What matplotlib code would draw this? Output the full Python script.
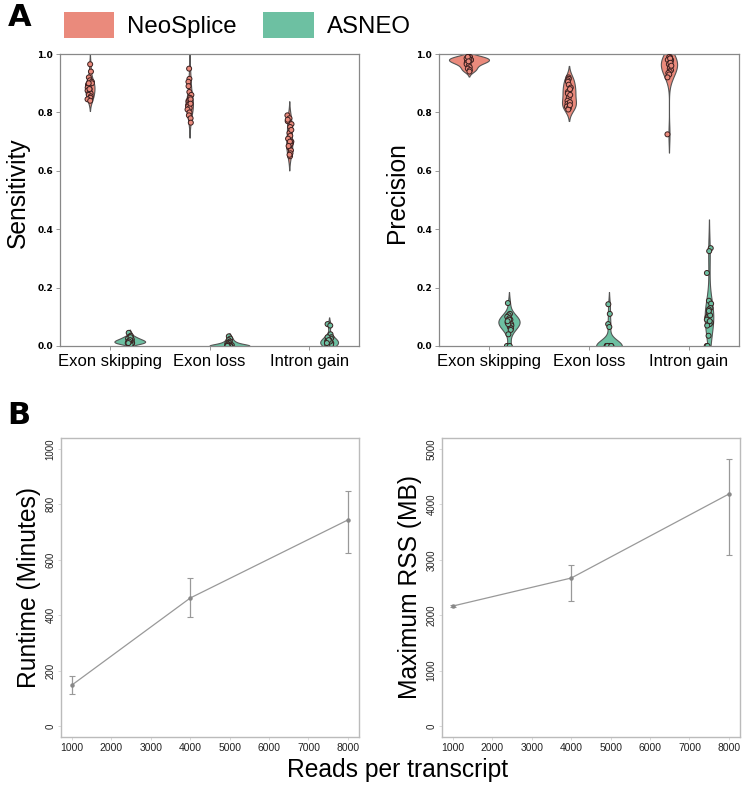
import matplotlib
matplotlib.use("Agg")
import matplotlib.pyplot as plt
import matplotlib.patches as mpatches
import numpy as np
import pandas as pd
import seaborn as sns

plt.rcParams['font.family'] = ['Liberation Sans', 'DejaVu Sans']

# ---------------- data ----------------
categories = ["Exon skipping", "Exon loss", "Intron gain"]
tools = ["NeoSplice", "ASNEO"]
colors = {"NeoSplice": "#EA8A7C", "ASNEO": "#6DC0A2"}

sens_neo_skip = [0.965, 0.94, 0.92, 0.91, 0.905, 0.90, 0.895, 0.89, 0.885, 0.88,
                 0.875, 0.87, 0.865, 0.86, 0.855, 0.85, 0.845, 0.84, 0.90, 0.88]
sens_neo_loss = [0.95, 0.915, 0.905, 0.89, 0.87, 0.86, 0.85, 0.84, 0.835, 0.83,
                 0.825, 0.82, 0.815, 0.81, 0.80, 0.79, 0.78, 0.765, 0.845, 0.83]
sens_neo_gain = [0.79, 0.78, 0.77, 0.76, 0.75, 0.73, 0.72, 0.71, 0.70, 0.695,
                 0.69, 0.68, 0.67, 0.66, 0.65, 0.74, 0.70, 0.685, 0.655, 0.775]
sens_asn_skip = [0.045, 0.035, 0.03, 0.025, 0.02, 0.02, 0.015, 0.015, 0.01, 0.01,
                 0.01, 0.005, 0.02, 0.025, 0.015, 0.01, 0.03, 0.02, 0.015, 0.01]
sens_asn_loss = [0.033, 0.025, 0.02, 0.015, 0.012, 0.01, 0.008, 0.005, 0.003, 0.002,
                 0.0, 0.0, 0.0, 0.0, 0.0, 0.0, 0.0, 0.0, 0.0, 0.0]
sens_asn_gain = [0.075, 0.07, 0.04, 0.03, 0.025, 0.02, 0.015, 0.01, 0.01, 0.005,
                 0.0, 0.0, 0.02, 0.03, 0.01, 0.005, 0.015, 0.0, 0.02, 0.01]

prec_neo_skip = [0.99, 0.99, 0.99, 0.985, 0.98, 0.98, 0.975, 0.975, 0.97, 0.97,
                 0.965, 0.96, 0.955, 0.95, 0.945, 0.94, 0.985, 0.98, 0.99, 0.975]
prec_neo_loss = [0.92, 0.915, 0.91, 0.905, 0.895, 0.885, 0.875, 0.87, 0.865, 0.85,
                 0.84, 0.83, 0.825, 0.82, 0.815, 0.81, 0.88, 0.86, 0.835, 0.825]
prec_neo_gain = [0.99, 0.99, 0.985, 0.98, 0.98, 0.975, 0.97, 0.965, 0.96, 0.955,
                 0.95, 0.945, 0.94, 0.935, 0.93, 0.92, 0.725, 0.985, 0.97, 0.96]
prec_asn_skip = [0.147, 0.11, 0.105, 0.10, 0.095, 0.09, 0.085, 0.08, 0.08, 0.075,
                 0.07, 0.065, 0.06, 0.055, 0.04, 0.0, 0.0, 0.09, 0.075, 0.085]
prec_asn_loss = [0.143, 0.11, 0.075, 0.065, 0.0, 0.0, 0.0, 0.0, 0.0, 0.0,
                 0.0, 0.0, 0.0, 0.0, 0.0, 0.0, 0.0, 0.0, 0.0, 0.0,
                 0.0, 0.0, 0.0, 0.0]
prec_asn_gain = [0.335, 0.325, 0.25, 0.155, 0.145, 0.13, 0.125, 0.11, 0.10, 0.095,
                 0.09, 0.08, 0.075, 0.07, 0.035, 0.0, 0.0, 0.105, 0.085, 0.12]

reads = [1000, 4000, 8000]
runtime_mean = [148, 462, 744]
runtime_low = [115, 394, 624]
runtime_high = [180, 534, 848]
rss_mean = [2166, 2671, 4188]
rss_low = [2140, 2256, 3087]
rss_high = [2190, 2906, 4820]

runtime_ticks = [0, 200, 400, 600, 800, 1000]
rss_ticks = [0, 1000, 2000, 3000, 4000, 5000]
reads_ticks = [1000, 2000, 3000, 4000, 5000, 6000, 7000, 8000]


def build_df(groups):
    rows = []
    for (cat, tool), vals in groups.items():
        for v in vals:
            rows.append({"type": cat, "tool": tool, "value": v})
    return pd.DataFrame(rows)


sens_df = build_df({
    ("Exon skipping", "NeoSplice"): sens_neo_skip,
    ("Exon loss", "NeoSplice"): sens_neo_loss,
    ("Intron gain", "NeoSplice"): sens_neo_gain,
    ("Exon skipping", "ASNEO"): sens_asn_skip,
    ("Exon loss", "ASNEO"): sens_asn_loss,
    ("Intron gain", "ASNEO"): sens_asn_gain,
})
prec_df = build_df({
    ("Exon skipping", "NeoSplice"): prec_neo_skip,
    ("Exon loss", "NeoSplice"): prec_neo_loss,
    ("Intron gain", "NeoSplice"): prec_neo_gain,
    ("Exon skipping", "ASNEO"): prec_asn_skip,
    ("Exon loss", "ASNEO"): prec_asn_loss,
    ("Intron gain", "ASNEO"): prec_asn_gain,
})

# ---------------- figure ----------------
fig = plt.figure(figsize=(7.5, 7.89), dpi=100)

ax_s = fig.add_axes([0.080, 0.5615, 0.3987, 0.370])
ax_p = fig.add_axes([0.5853, 0.5615, 0.4000, 0.370])
ax_r = fig.add_axes([0.0813, 0.0659, 0.3973, 0.379])
ax_m = fig.add_axes([0.5893, 0.0659, 0.3973, 0.379])


def violin_panel(ax, df, ylabel):
    sns.violinplot(data=df, x="type", y="value", hue="tool", order=categories,
                   hue_order=tools, palette=colors, inner=None, linewidth=0.8,
                   linecolor="#555555", saturation=1, width=0.8, ax=ax,
                   legend=False, density_norm="area", common_norm=True)
    np.random.seed(3)
    sns.stripplot(data=df, x="type", y="value", hue="tool", order=categories,
                  hue_order=tools, palette=colors, dodge=True, size=3.6,
                  jitter=0.05, edgecolor="#3a2020", linewidth=0.7, ax=ax,
                  legend=False)
    ax.set_ylim(0, 1.0)
    ax.set_xlim(-0.5, 2.5)
    ax.set_yticks([0.0, 0.2, 0.4, 0.6, 0.8, 1.0])
    ax.set_yticklabels(["0.0", "0.2", "0.4", "0.6", "0.8", "1.0"],
                       fontfamily="DejaVu Sans", fontweight="bold", fontsize=6.5)
    ax.set_xticks(range(len(categories)))
    ax.set_xticklabels(categories, fontsize=12)
    ax.set_xlabel("")
    ax.set_ylabel(ylabel, fontsize=17.7)
    ax.yaxis.set_label_coords(-0.10, 0.524)
    for sp in ax.spines.values():
        sp.set_color("#888888")
        sp.set_linewidth(0.9)
    ax.tick_params(axis="both", length=3, width=0.6, color="#888888", pad=2)
    ax.tick_params(axis="x", pad=3)


violin_panel(ax_s, sens_df, "Sensitivity")
violin_panel(ax_p, prec_df, "Precision")


def line_panel(ax, mean, low, high, ticks, ylabel):
    mean = np.array(mean)
    yerr = np.vstack([mean - np.array(low), np.array(high) - mean])
    ax.errorbar(reads, mean, yerr=yerr, color="#999999", ecolor="#999999",
                lw=0.9, elinewidth=0.9, capsize=2, capthick=0.8,
                marker="o", markersize=2.2, markerfacecolor="#888888",
                markeredgecolor="#888888")
    span = ticks[-1] - ticks[0]
    ax.set_ylim(ticks[0] - 0.04 * span, ticks[-1] + 0.04 * span)
    ax.set_xlim(1000 - 0.04 * 7000, 8000 + 0.04 * 7000)
    ax.set_yticks(ticks)
    ax.set_yticklabels([str(t) for t in ticks], rotation=90, va="center",
                       fontsize=7, color="#222222")
    ax.set_xticks(reads_ticks)
    ax.set_xticklabels([str(t) for t in reads_ticks], fontsize=7.5, color="#222222")
    ax.set_ylabel(ylabel, fontsize=17.7, labelpad=3)
    for sp in ax.spines.values():
        sp.set_color("#bbbbbb")
        sp.set_linewidth(1.0)
    ax.tick_params(axis="both", length=2, width=0.5, color="#cccccc", pad=2)


line_panel(ax_r, runtime_mean, runtime_low, runtime_high, runtime_ticks,
           "Runtime (Minutes)")
line_panel(ax_m, rss_mean, rss_low, rss_high, rss_ticks, "Maximum RSS (MB)")

fig.text(0.530, 0.024, "Reads per transcript", ha="center", va="center", fontsize=17.7)

# panel letters
fig.text(0.010, 0.978, "A", fontsize=22, fontweight="bold", ha="left", va="center",
         fontfamily="DejaVu Sans")
fig.text(0.010, 0.473, "B", fontsize=22, fontweight="bold", ha="left", va="center",
         fontfamily="DejaVu Sans")

# legend
handles = [mpatches.Patch(facecolor=colors[t], edgecolor="none", label=t) for t in tools]
fig.legend(handles=handles, loc="center left", bbox_to_anchor=(0.072, 0.968),
           ncol=2, frameon=False, fontsize=17.3, handlelength=2.1, handleheight=1.3,
           handletextpad=0.55, columnspacing=1.1, borderaxespad=0)

fig.savefig("out.png", dpi=100)
